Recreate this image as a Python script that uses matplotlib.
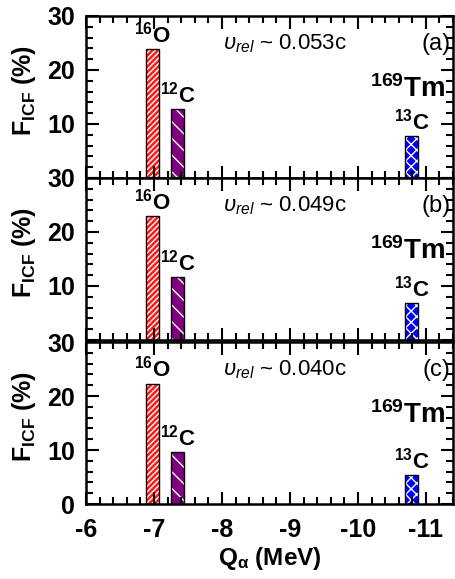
import numpy as np
import matplotlib
matplotlib.use("Agg")
from matplotlib import pyplot as plt
from matplotlib.ticker import MultipleLocator

plt.rcParams['font.family'] = ['Liberation Sans', 'DejaVu Sans']
plt.rcParams['mathtext.fontset'] = 'custom'
plt.rcParams['mathtext.rm'] = 'Liberation Sans'
plt.rcParams['mathtext.it'] = 'Liberation Sans:italic'
plt.rcParams['mathtext.bf'] = 'Liberation Sans:bold'
plt.rcParams['axes.unicode_minus'] = False
plt.rcParams['hatch.linewidth'] = 1.0

# data
channels = ["16O", "12C", "13C"]
q_values = [-6.98, -7.35, -10.79]
f_16o = [23.8, 23.0, 22.3]
f_12c = [12.7, 11.7, 9.6]
f_13c = [7.8, 6.8, 5.4]
velocities = ["0.053c", "0.049c", "0.040c"]
panel_tags = ["(a)", "(b)", "(c)"]

colors = ["#ff1a1a", "#800080", "#0000ff"]
hatches = ["//////", "\\\\", "xxx"]
labels = [r"$^{\mathbf{16}}$O", r"$^{\mathbf{12}}$C", r"$^{\mathbf{13}}$C"]

fig = plt.figure(figsize=(4.56, 5.79), dpi=100)
left, width, height = 0.1886, 0.805, 0.2798
bottoms = [0.6926, 0.4128, 0.1295]

for i in range(3):
    ax = fig.add_axes([left, bottoms[i], width, height])
    vals = [f_16o[i], f_12c[i], f_13c[i]]
    bars = ax.bar(q_values, vals, width=0.185, color=colors, edgecolor='white', linewidth=0)
    for b, h in zip(bars, hatches):
        b.set_hatch(h)
    ax.bar(q_values, vals, width=0.185, fill=False, edgecolor='black', linewidth=1.0)
    for x, v, lab in zip(q_values, vals, labels):
        ax.text(x, v + 0.3, lab, ha='center', va='bottom', fontsize=16, fontweight='bold')

    ax.text(0.373, 0.83, r"$\upsilon_{rel}$ ~ " + velocities[i], transform=ax.transAxes,
            ha='left', va='center', fontsize=16)
    ax.text(0.992, 0.83, panel_tags[i], transform=ax.transAxes,
            ha='right', va='center', fontsize=17)
    ax.text(0.978, 0.5, r"$^{\mathbf{169}}$Tm", transform=ax.transAxes,
            ha='right', va='baseline', fontsize=20, fontweight='bold')

    ax.set_xlim(-6, -11.4)
    ax.set_ylim(0, 30)
    ax.set_yticks([0, 10, 20, 30])
    if i < 2:
        ax.set_yticklabels(['', '10', '20', '30'])
        ax.set_xticklabels([])
    ax.xaxis.set_major_locator(MultipleLocator(1))
    ax.xaxis.set_minor_locator(MultipleLocator(0.2))
    ax.yaxis.set_minor_locator(MultipleLocator(2))
    ax.tick_params(which='both', direction='in', top=True, right=True, width=1.5)
    ax.tick_params(which='major', length=9, labelsize=18, pad=8)
    ax.tick_params(axis='x', which='major', pad=10)
    ax.tick_params(which='minor', length=5)
    for lbl in ax.get_xticklabels() + ax.get_yticklabels():
        lbl.set_fontweight('bold')
    for s in ax.spines.values():
        s.set_linewidth(1.8)
    ax.set_ylabel(r"$\mathbf{F_{ICF}}$ (%)", fontsize=18, fontweight='bold')
    ax.yaxis.set_label_coords(-0.13, 0.54)
    if i == 2:
        ax.set_xlabel(r"$\mathbf{Q_{\alpha}}$ (MeV)", fontsize=17.5, fontweight='bold', labelpad=2)

fig.savefig("out.png", dpi=100)
